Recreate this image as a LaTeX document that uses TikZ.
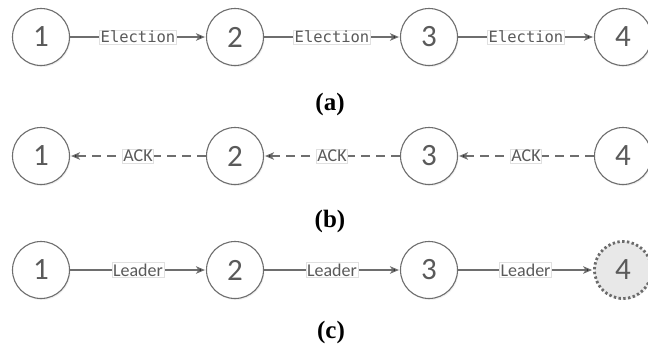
\documentclass[tikz,border=0pt]{standalone}
\usepackage{fontspec}
\setmainfont{Liberation Serif}
\newfontfamily\numfont{Carlito}
\newfontfamily\msgfont{DejaVu Sans Mono}
\usetikzlibrary{arrows.meta, positioning, shadows}
\definecolor{linegray}{HTML}{6E6E6E}
\definecolor{textgray}{HTML}{5A5A5A}

\begin{document}
\begin{tikzpicture}[x=1pt,y=1pt,>={Stealth[length=9pt,width=7.5pt,inset=2.5pt]},shorten >=1pt,node distance=194pt,
  proc/.style={circle, draw=linegray, fill=white, line width=1.1pt, minimum size=57pt, inner sep=0pt,
    text=textgray, font=\numfont\fontsize{31}{31}\selectfont,
    drop shadow={opacity=0.12, shadow xshift=1pt, shadow yshift=-1.5pt}},
  leader/.style={proc, fill=black!9, draw=black!58, line width=2.8pt,
    dash pattern=on 2.4pt off 2.4pt},
  msg/.style={draw=black!12, line width=0.5pt, fill=white, inner sep=1pt, text=textgray, solid},
  elect/.style={msg, font=\msgfont\fontsize{15.5}{15.5}\selectfont},
  ack/.style={msg, font=\numfont\fontsize{18}{18}\selectfont},
  caption/.style={font=\bfseries\fontsize{25}{25}\selectfont}]
\useasboundingbox (0,0) rectangle (648,-351);

% (a) election messages
  \node[proc] (a1) at (41,-37) {1};
  \node[proc] (a2) [right of=a1] {2};
  \node[proc] (a3) [right of=a2] {3};
  \node[proc] (a4) [right of=a3] {4};
  \node[caption] (capa) at (330,-104) {(a)};

% (b) acknowledgements
  \node[proc] (b1) at (41,-156) {1};
  \node[proc] (b2) [right of=b1] {2};
  \node[proc] (b3) [right of=b2] {3};
  \node[proc] (b4) [right of=b3] {4};
  \node[caption] (capb) at (330,-221) {(b)};

% (c) leader announcement
  \node[proc] (c1) at (41,-270) {1};
  \node[proc] (c2) [right of=c1] {2};
  \node[proc] (c3) [right of=c2] {3};
  \node[leader] (c4) [right of=c3] {4};
  \node[caption] (capc) at (331,-332) {(c)};

% define the links
  \path[->, draw=linegray, line width=1.2pt]
        (a1) edge node[elect] {Election} (a2)
        (a2) edge node[elect] {Election} (a3)
        (a3) edge node[elect] {Election} (a4)
        (c1) edge node[ack] {Leader} (c2)
        (c2) edge node[ack] {Leader} (c3)
        (c3) edge node[ack] {Leader} (c4);
  \path[->, draw=linegray, line width=1.2pt, dash pattern=on 9pt off 6pt]
        (b2) edge node[ack] {ACK} (b1)
        (b3) edge node[ack] {ACK} (b2)
        (b4) edge node[ack] {ACK} (b3);

\end{tikzpicture}
\end{document}
